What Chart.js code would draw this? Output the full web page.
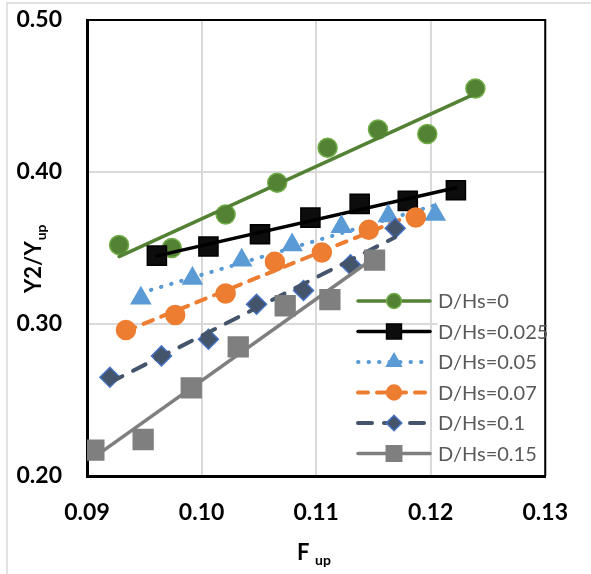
<!DOCTYPE html>
<html>
<head>
<meta charset="utf-8">
<script src="https://cdn.jsdelivr.net/npm/chart.js@4.4.0/dist/chart.umd.min.js"></script>
<style>
  html, body { margin: 0; padding: 0; background: #fff; }
  canvas { display: block; }
</style>
</head>
<body>
<canvas id="chart" width="591" height="574"></canvas>
<script>
// series names (legend)
const seriesNames = ['D/Hs=0', 'D/Hs=0.025', 'D/Hs=0.05', 'D/Hs=0.07', 'D/Hs=0.1', 'D/Hs=0.15'];

// F_up / (Y2/Y_up) pairs
const fup0 = [0.0928, 0.0974, 0.1021, 0.1066, 0.1110, 0.1154, 0.1197, 0.1239];
const ratio0 = [0.352, 0.350, 0.372, 0.393, 0.416, 0.428, 0.425, 0.455];

const fup025 = [0.0961, 0.1006, 0.1051, 0.1095, 0.1138, 0.1180, 0.1222];
const ratio025 = [0.345, 0.351, 0.359, 0.370, 0.379, 0.381, 0.388];

const fup05 = [0.0947, 0.0992, 0.1035, 0.1079, 0.1122, 0.1163, 0.1204];
const ratio05 = [0.317, 0.330, 0.342, 0.352, 0.364, 0.371, 0.372];

const fup07 = [0.0934, 0.0977, 0.1021, 0.1064, 0.1105, 0.1146, 0.1187];
const ratio07 = [0.296, 0.306, 0.320, 0.341, 0.347, 0.362, 0.370];

const fup1 = [0.0920, 0.0965, 0.1006, 0.1048, 0.1089, 0.1130, 0.1169];
const ratio1 = [0.265, 0.279, 0.290, 0.313, 0.322, 0.339, 0.363];

const fup15 = [0.0906, 0.0949, 0.0991, 0.1032, 0.1073, 0.1112, 0.1151];
const ratio15 = [0.217, 0.224, 0.258, 0.285, 0.312, 0.316, 0.342];

const xTicks = [0.09, 0.10, 0.11, 0.12, 0.13];
const yTicks = [0.20, 0.30, 0.40, 0.50];

const allX = [fup0, fup025, fup05, fup07, fup1, fup15];
const allY = [ratio0, ratio025, ratio05, ratio07, ratio1, ratio15];

const styles = [
    { point: 'circle', r: 9.5, fill: '#548235', edge: '#70AD47', line: '#548235', dash: [], lw: 3.5 },
    { point: 'rect', r: 13.5, fill: '#0D0D0D', edge: '#000000', line: '#000000', dash: [], lw: 3.5 },
    { point: 'triangle', r: 11, fill: '#5B9BD5', edge: '#5B9BD5', line: '#5B9BD5', dash: [0.5, 10], lw: 4 },
    { point: 'circle', r: 9.5, fill: '#ED7D31', edge: '#ED7D31', line: '#ED7D31', dash: [10, 9], lw: 4 },
    { point: 'rectRot', r: 10, fill: '#44546A', edge: '#4472C4', line: '#44546A', dash: [14, 12], lw: 4 },
    { point: 'rect', r: 14, fill: '#7F7F7F', edge: '#7F7F7F', line: '#7F7F7F', dash: [], lw: 3.5 }
];

// least squares fit, like the Excel linear trendline
function trend(xs, ys) {
    const n = xs.length;
    let sx = 0, sy = 0, sxx = 0, sxy = 0;
    for (let i = 0; i < n; i++) {
        sx += xs[i]; sy += ys[i]; sxx += xs[i] * xs[i]; sxy += xs[i] * ys[i];
    }
    const b = (n * sxy - sx * sy) / (n * sxx - sx * sx);
    const a = (sy - b * sx) / n;
    const x0 = Math.min(...xs), x1 = Math.max(...xs);
    return [{ x: x0, y: a + b * x0 }, { x: x1, y: a + b * x1 }];
}

const datasets = [];
allX.forEach((xs, i) => {
    const s = styles[i];
    datasets.push({
        type: 'scatter',
        label: seriesNames[i],
        data: xs.map((x, j) => ({ x: x, y: allY[i][j] })),
        pointStyle: s.point,
        pointRadius: s.r,
        pointBackgroundColor: s.fill,
        pointBorderColor: s.edge,
        pointBorderWidth: 1.5,
        showLine: false,
        order: 20 - 2 * i
    });
    datasets.push({
        type: 'line',
        label: seriesNames[i] + ' trend',
        data: trend(xs, allY[i]),
        borderColor: s.line,
        borderWidth: s.lw,
        borderDash: s.dash,
        borderCapStyle: 'round',
        pointRadius: 0,
        fill: false,
        order: 19 - 2 * i
    });
});

function marker(ctx, kind, x, y, r) {
    ctx.beginPath();
    if (kind === 'circle') {
        ctx.arc(x, y, r, 0, Math.PI * 2);
    } else if (kind === 'rect') {
        const h = r * Math.SQRT1_2;
        ctx.rect(x - h, y - h, 2 * h, 2 * h);
    } else if (kind === 'triangle') {
        ctx.moveTo(x, y - r);
        ctx.lineTo(x + 0.866 * r, y + 0.5 * r);
        ctx.lineTo(x - 0.866 * r, y + 0.5 * r);
        ctx.closePath();
    } else {
        ctx.moveTo(x, y - r);
        ctx.lineTo(x + r, y);
        ctx.lineTo(x, y + r);
        ctx.lineTo(x - r, y);
        ctx.closePath();
    }
    ctx.fill();
    ctx.stroke();
}

const decor = {
    id: 'decor',
    beforeDraw(chart) {
        const ctx = chart.ctx;
        ctx.save();
        ctx.fillStyle = '#fff';
        ctx.fillRect(0, 0, chart.width, chart.height);
        ctx.strokeStyle = '#D9D9D9';
        ctx.lineWidth = 1.5;
        ctx.beginPath();
        ctx.moveTo(7, chart.height);
        ctx.lineTo(7, 3);
        ctx.lineTo(chart.width, 3);
        ctx.stroke();
        ctx.restore();
    },
    afterDatasetsDraw(chart) {
        const ctx = chart.ctx;
        const ca = chart.chartArea;
        ctx.save();
        // thin top / right frame
        ctx.strokeStyle = '#000';
        ctx.lineWidth = 2;
        ctx.beginPath();
        ctx.moveTo(ca.left, ca.top);
        ctx.lineTo(ca.right, ca.top);
        ctx.lineTo(ca.right, ca.bottom);
        ctx.stroke();

        // legend
        const lx = 358, ly = 301, step = 30.5;
        ctx.fillStyle = '#fff';
        ctx.fillRect(437.5, 285, ca.right - 439, 185);
        seriesNames.forEach((name, i) => {
            const s = styles[i];
            const y = ly + i * step;
            ctx.strokeStyle = s.line;
            ctx.lineWidth = s.lw;
            ctx.lineCap = 'round';
            ctx.setLineDash(s.dash);
            ctx.beginPath();
            ctx.moveTo(lx, y);
            ctx.lineTo(lx + 72, y);
            ctx.stroke();
            ctx.setLineDash([]);
            ctx.fillStyle = s.fill;
            ctx.strokeStyle = s.edge;
            ctx.lineWidth = 1.5;
            marker(ctx, s.point, lx + 36, y, s.r * 0.78);
            ctx.fillStyle = '#595959';
            ctx.font = '20px Lato';
            ctx.textBaseline = 'middle';
            ctx.textAlign = 'left';
            ctx.fillText(name, 438, y + 1);
        });

        // axis titles with subscripts
        ctx.fillStyle = '#000';
        ctx.textBaseline = 'alphabetic';
        ctx.font = 'bold 22px Lato';
        ctx.fillText('F', 297, 560);
        ctx.font = 'bold 14px Lato';
        ctx.fillText('up', 315, 565);

        ctx.translate(41, 293);
        ctx.rotate(-Math.PI / 2);
        ctx.font = 'bold 22px Lato';
        ctx.fillText('Y2/Y', 0, 0);
        const w = ctx.measureText('Y2/Y').width;
        ctx.font = 'bold 14px Lato';
        ctx.fillText('up', w + 1, 5);
        ctx.restore();
    }
};

const ctx = document.getElementById('chart').getContext('2d');
const chart = new Chart(ctx, {
    type: 'scatter',
    data: { datasets: datasets },
    options: {
        responsive: false,
        animation: false,
        devicePixelRatio: 1,
        layout: { padding: { top: 20, right: 40, left: 0, bottom: 0 } },
        plugins: { legend: { display: false }, tooltip: { enabled: false } },
        scales: {
            x: {
                type: 'linear',
                min: 0.09,
                max: 0.13,
                afterBuildTicks: scale => { scale.ticks = xTicks.map(v => ({ value: v })); },
                afterFit: scale => { scale.height = 98; },
                ticks: {
                    callback: v => v.toFixed(2),
                    font: { family: 'Lato', size: 23, weight: 'bold' },
                    color: '#000',
                    padding: 23,
                    maxRotation: 0
                },
                grid: { color: '#D9D9D9', lineWidth: 2, drawTicks: false },
                border: { color: '#000', width: 3 }
            },
            y: {
                type: 'linear',
                min: 0.2,
                max: 0.5,
                afterBuildTicks: scale => { scale.ticks = yTicks.map(v => ({ value: v })); },
                afterFit: scale => {
                    scale.width = 87;
                    scale.paddingTop = 12;
                    scale.paddingBottom = 12;
                },
                ticks: {
                    callback: v => v.toFixed(2),
                    font: { family: 'Lato', size: 23, weight: 'bold' },
                    color: '#000',
                    padding: 25
                },
                grid: { color: '#D9D9D9', lineWidth: 2, drawTicks: false },
                border: { color: '#000', width: 3 }
            }
        }
    },
    plugins: [decor]
});
</script>
</body>
</html>
